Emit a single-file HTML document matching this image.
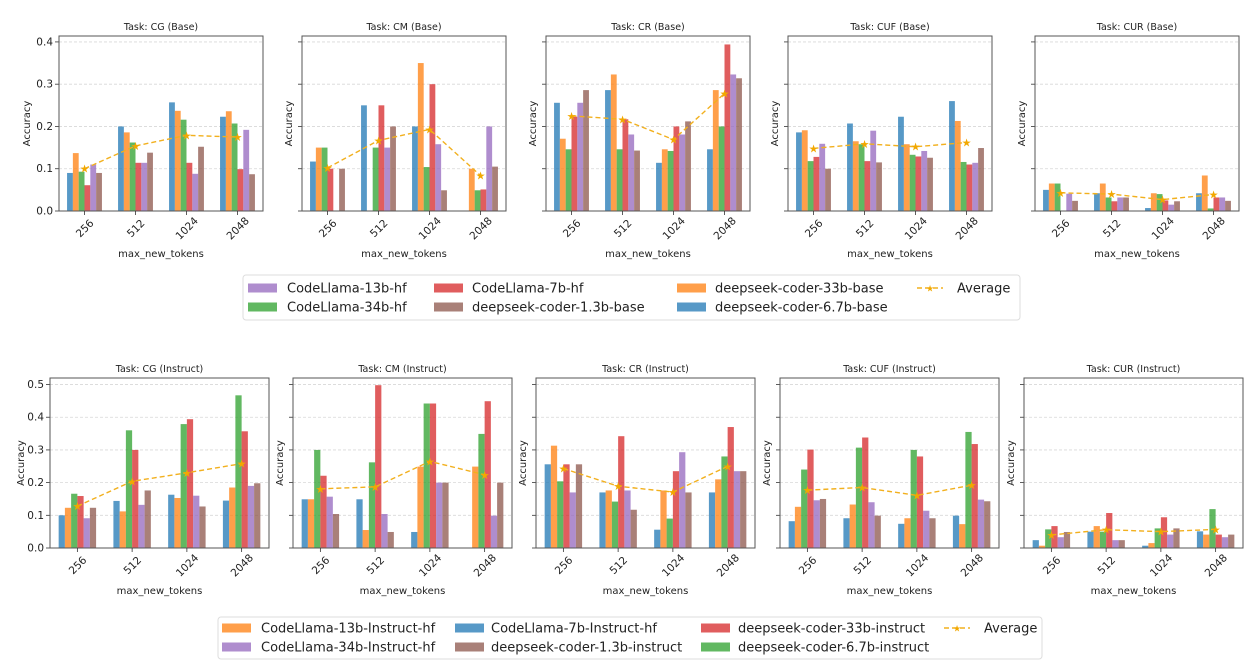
<!DOCTYPE html>
<html><head><meta charset="utf-8"><style>
html,body{margin:0;padding:0;background:#fff;}
svg{display:block;font-family:"DejaVu Sans","Liberation Sans",sans-serif;}
</style></head><body>
<svg id="chart" width="1249" height="665" viewBox="0 0 1249 665" xmlns="http://www.w3.org/2000/svg"></svg>
<script>
const categories = ["256","512","1024","2048"];
const baseTasks = ["CG","CM","CR","CUF","CUR"];
const instTasks = ["CG","CM","CR","CUF","CUR"];
const baseModels = ["deepseek-coder-6.7b-base","deepseek-coder-33b-base","CodeLlama-34b-hf","CodeLlama-7b-hf","CodeLlama-13b-hf","deepseek-coder-1.3b-base"];
const instModels = ["CodeLlama-7b-Instruct-hf","CodeLlama-13b-Instruct-hf","deepseek-coder-6.7b-instruct","deepseek-coder-33b-instruct","CodeLlama-34b-Instruct-hf","deepseek-coder-1.3b-instruct"];
const yTicksBase = ["0.0","0.1","0.2","0.3","0.4"];
const yTicksInst = ["0.0","0.1","0.2","0.3","0.4","0.5"];
// base values [task][category][model]
const baseCG = [[0.09,0.137,0.093,0.061,0.11,0.09],[0.2,0.186,0.162,0.114,0.114,0.138],[0.257,0.237,0.216,0.114,0.088,0.152],[0.223,0.236,0.207,0.099,0.192,0.087]];
const baseCM = [[0.117,0.15,0.15,0.1,0,0.1],[0.25,0,0.15,0.25,0.15,0.2],[0.2,0.35,0.104,0.3,0.158,0.049],[0,0.1,0.049,0.051,0.2,0.105]];
const baseCR = [[0.256,0.171,0.146,0.223,0.256,0.286],[0.286,0.323,0.146,0.217,0.181,0.143],[0.114,0.146,0.142,0.2,0.181,0.212],[0.146,0.286,0.2,0.394,0.323,0.314]];
const baseCUF = [[0.186,0.191,0.118,0.128,0.159,0.1],[0.207,0.165,0.158,0.118,0.19,0.115],[0.223,0.158,0.133,0.129,0.142,0.126],[0.26,0.213,0.116,0.11,0.114,0.149]];
const baseCUR = [[0.05,0.065,0.065,0,0.041,0.024],[0.042,0.065,0.032,0.023,0.032,0.032],[0.007,0.042,0.04,0.025,0.015,0.023],[0.042,0.084,0.006,0.032,0.032,0.024]];
const baseAvg = [[0.1,0.154,0.179,0.175],[0.102,0.167,0.193,0.084],[0.225,0.217,0.169,0.278],[0.148,0.159,0.152,0.162],[0.043,0.04,0.027,0.039]];
const instCG = [[0.1,0.123,0.166,0.159,0.091,0.123],[0.144,0.112,0.36,0.3,0.132,0.176],[0.163,0.153,0.379,0.394,0.16,0.127],[0.145,0.185,0.467,0.357,0.19,0.198]];
const instCM = [[0.149,0.149,0.3,0.221,0.157,0.104],[0.149,0.055,0.262,0.498,0.104,0.049],[0.049,0.249,0.442,0.442,0.2,0.2],[0,0.249,0.349,0.449,0.099,0.2]];
const instCR = [[0.256,0.313,0.204,0.256,0.17,0.256],[0.17,0.176,0.142,0.342,0.176,0.117],[0.056,0.176,0.09,0.235,0.293,0.17],[0.17,0.21,0.28,0.37,0.235,0.235]];
const instCUF = [[0.082,0.126,0.24,0.301,0.146,0.15],[0.091,0.133,0.307,0.338,0.14,0.099],[0.074,0.091,0.3,0.28,0.114,0.091],[0.099,0.073,0.355,0.318,0.148,0.143]];
const instCUR = [[0.024,0.007,0.057,0.067,0.033,0.049],[0.05,0.067,0.05,0.107,0.024,0.024],[0.007,0.015,0.06,0.094,0.041,0.06],[0.051,0.041,0.119,0.041,0.033,0.041]];
const instAvg = [[0.128,0.204,0.23,0.258],[0.181,0.187,0.265,0.224],[0.243,0.189,0.171,0.25],[0.177,0.185,0.161,0.192],[0.04,0.056,0.05,0.057]];

const baseData = [baseCG,baseCM,baseCR,baseCUF,baseCUR];
const instData = [instCG,instCM,instCR,instCUF,instCUR];
const baseColors = ["#1f77b4","#ff7f0e","#2ca02c","#d62728","#9467bd","#8c564b"];
const instColors = ["#1f77b4","#ff7f0e","#2ca02c","#d62728","#9467bd","#8c564b"];
const NS="http://www.w3.org/2000/svg";
const svg=document.getElementById('chart');
function mk(tag,attrs,parent){const e=document.createElementNS(NS,tag);for(const k in attrs)e.setAttribute(k,attrs[k]);(parent||svg).appendChild(e);return e;}

function panel(cfg){
  const g=mk('g',{});
  
  
  const {x0,w,top,bottom,ymax}=cfg;
  const ys=v=>bottom-(v/ymax)*(bottom-top);
  const xs=i=>x0+(i+0.5)*w/4;
  const bw=(w/4)*0.114;
  // grid
  cfg.ticks.forEach((t,ti)=>{
    const y=ys(parseFloat(t));
    if(ti>0){const gl=mk('line',{x1:x0,x2:x0+w,y1:y,y2:y,stroke:'#d8d8d8','stroke-width':0.8,'stroke-dasharray':'3,2'},g);
    
    }
    mk('line',{x1:x0-4,x2:x0,y1:y,y2:y,stroke:'#333','stroke-width':0.8},g);
    if(cfg.showY){const tl=mk('text',{x:x0-6,y:y+3.5,'text-anchor':'end','font-size':10.5,fill:'#222'},g);tl.textContent=t;
    
    }
  });
  // bars
  cfg.data.forEach((grp,ci)=>{
    grp.forEach((v,mi)=>{
      if(v<=0)return;
      const bx=xs(ci)+(mi-3)*bw;
      const r=mk('rect',{x:bx,y:ys(v),width:bw,height:bottom-ys(v),fill:cfg.colors[mi],'fill-opacity':0.75},g);
      
      
    });
  });
  // average line
  const pts=cfg.avg.map((v,i)=>xs(i)+','+ys(v)).join(' ');
  const pl=mk('polyline',{points:pts,fill:'none',stroke:'#f2b01e','stroke-width':1.4,'stroke-dasharray':'5,3'},g);
  
  
  cfg.avg.forEach((v,i)=>{
    const s=mk('text',{x:xs(i),y:ys(v)+4,'text-anchor':'middle','font-size':11,fill:'#f2a800'},g);s.textContent='★';
    
    
  });
  // frame
  const fr=mk('rect',{x:x0,y:top,width:w,height:bottom-top,fill:'none',stroke:'#555','stroke-width':1},g);
  
  
  categories.forEach((c,i)=>{
    mk('line',{x1:xs(i),x2:xs(i),y1:bottom,y2:bottom+4,stroke:'#333','stroke-width':0.8},g);
    const t=mk('text',{x:xs(i),y:bottom+21,'text-anchor':'middle','font-size':10.5,fill:'#222',transform:`rotate(-45 ${xs(i)} ${bottom+17})`},g);t.textContent=c;
    
    
  });
  const tt=mk('text',{x:x0+w/2,y:top-6,'text-anchor':'middle','font-size':9.5,fill:'#222'},g);tt.textContent=cfg.title;
  
  
  const xl=mk('text',{x:x0+w/2,y:bottom+46,'text-anchor':'middle','font-size':10,fill:'#222'},g);xl.textContent='max_new_tokens';
  
  
  const lx=cfg.ylx, ly=(top+bottom)/2;
  const yl=mk('text',{x:lx,y:ly,'text-anchor':'middle','font-size':10,fill:'#222',transform:`rotate(-90 ${lx} ${ly})`},g);yl.textContent='Accuracy';
  
  
}
const baseX=[59,302,546,788,1035];
baseTasks.forEach((t,i)=>panel({name:'panel-'+t.toLowerCase()+'-base',x0:baseX[i],w:204,top:36,bottom:211,ymax:0.414,ticks:yTicksBase,showY:i===0,data:baseData[i],avg:baseAvg[i],colors:baseColors,title:'Task: '+t+' (Base)',ylx:i===0?30:baseX[i]-10}));
const instX=[50,293,536,780,1024];
instTasks.forEach((t,i)=>panel({name:'panel-'+t.toLowerCase()+'-instruct',x0:instX[i],w:219,top:378,bottom:548,ymax:0.52,ticks:yTicksInst,showY:i===0,data:instData[i],avg:instAvg[i],colors:instColors,title:'Task: '+t+' (Instruct)',ylx:i===0?24:instX[i]-10}));

function legend(cfg){
  const g=mk('g',{});
  
  
  mk('rect',{x:cfg.x,y:cfg.y,width:cfg.w,height:cfg.h,rx:3,fill:'#fff',stroke:'#ddd','stroke-width':1},g);
  cfg.items.forEach(it=>{
    if(it.avg){
      mk('line',{x1:it.px,x2:it.px+26,y1:it.cy,y2:it.cy,stroke:'#f2b01e','stroke-width':1.4,'stroke-dasharray':'5,3'},g);
      const s=mk('text',{x:it.px+13,y:it.cy+3.5,'text-anchor':'middle','font-size':9,fill:'#f2a800'},g);s.textContent='★';
    } else {
      mk('rect',{x:it.px,y:it.cy-4.5,width:29,height:9,fill:it.color,'fill-opacity':0.75},g);
    }
    const t=mk('text',{x:it.tx,y:it.cy+4.5,'font-size':13,fill:'#222'},g);t.textContent=it.label;
    
    
  });
}
legend({name:'legend-base',x:243,y:275,w:777,h:45,items:[
 {px:248,tx:287,cy:288,color:baseColors[4],label:'CodeLlama-13b-hf'},
 {px:248,tx:287,cy:307,color:baseColors[2],label:'CodeLlama-34b-hf'},
 {px:434,tx:472,cy:288,color:baseColors[3],label:'CodeLlama-7b-hf'},
 {px:434,tx:472,cy:307,color:baseColors[5],label:'deepseek-coder-1.3b-base'},
 {px:677,tx:715,cy:288,color:baseColors[1],label:'deepseek-coder-33b-base'},
 {px:677,tx:715,cy:307,color:baseColors[0],label:'deepseek-coder-6.7b-base'},
 {px:917,tx:957,cy:288,avg:true,label:'Average'}]});
legend({name:'legend-instruct',x:218,y:617,w:824,h:42,items:[
 {px:222,tx:261,cy:628,color:instColors[1],label:'CodeLlama-13b-Instruct-hf'},
 {px:222,tx:261,cy:647,color:instColors[4],label:'CodeLlama-34b-Instruct-hf'},
 {px:455,tx:491,cy:628,color:instColors[0],label:'CodeLlama-7b-Instruct-hf'},
 {px:455,tx:491,cy:647,color:instColors[5],label:'deepseek-coder-1.3b-instruct'},
 {px:701,tx:738,cy:628,color:instColors[3],label:'deepseek-coder-33b-instruct'},
 {px:701,tx:738,cy:647,color:instColors[2],label:'deepseek-coder-6.7b-instruct'},
 {px:944,tx:984,cy:628,avg:true,label:'Average'}]});
</script>
</body></html>
